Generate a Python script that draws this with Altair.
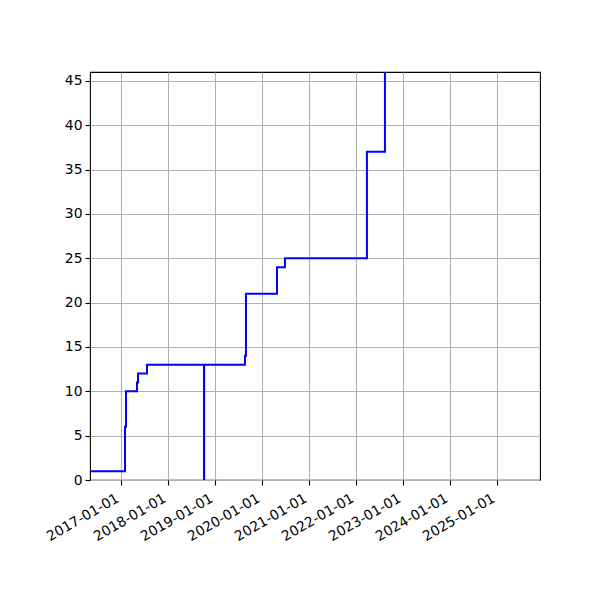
import pandas as pd
import altair as alt

# step data: date at which the count changes, and the new count
dates = ["2016-05-05", "2017-02-01", "2017-02-09", "2017-05-05", "2017-05-13",
         "2017-07-22", "2018-10-08", "2018-10-09", "2019-08-22", "2019-08-30",
         "2020-04-27", "2020-06-28", "2022-03-27", "2022-08-14"]
counts = [1, 6, 10, 11, 12, 13, 0, 13, 14, 21, 24, 25, 37, 60]

tick_years = list(range(2017, 2026))
y_ticks = [0, 5, 10, 15, 20, 25, 30, 35, 40, 45]

df = pd.DataFrame({"date": dates, "count": counts})

x_ticks = [alt.DateTime(year=y, month=1, date=1, utc=True) for y in tick_years]

line = alt.Chart(df).mark_line(
    interpolate="step-after", color="#0000ff", strokeWidth=2, clip=True
).encode(
    alt.X("date:T",
          scale=alt.Scale(type="utc",
                          domain=[alt.DateTime(year=2016, month=5, date=5, utc=True),
                                  alt.DateTime(year=2025, month=12, date=1, utc=True)]),
          axis=alt.Axis(values=x_ticks, format="%Y-%m-%d", labelAngle=-30,
                        labelAlign="right", labelBaseline="top", labelOffset=-7,
                        labelPadding=6),
          title=None),
    alt.Y("count:Q",
          scale=alt.Scale(domain=[0, 46], nice=False),
          axis=alt.Axis(values=y_ticks, labelPadding=3),
          title=None)
).properties(
    width=450,
    height=408,
    autosize=alt.AutoSizeParams(type="none"),
    padding={"left": 82, "top": 64, "right": 52, "bottom": 112}
)

chart = line.configure(
    background="white"
).configure_view(
    stroke="black", strokeWidth=1.1
).configure_axis(
    domain=False,
    grid=True,
    gridColor="#b0b0b0",
    gridWidth=1.1,
    tickColor="black",
    tickSize=5,
    tickWidth=1.1,
    labelFont="DejaVu Sans",
    labelFontSize=13.9,
    labelColor="black",
    labelFlush=False,
    labelOverlap=False
)

chart.save("out.html", embed_options={"renderer": "svg", "actions": False})
